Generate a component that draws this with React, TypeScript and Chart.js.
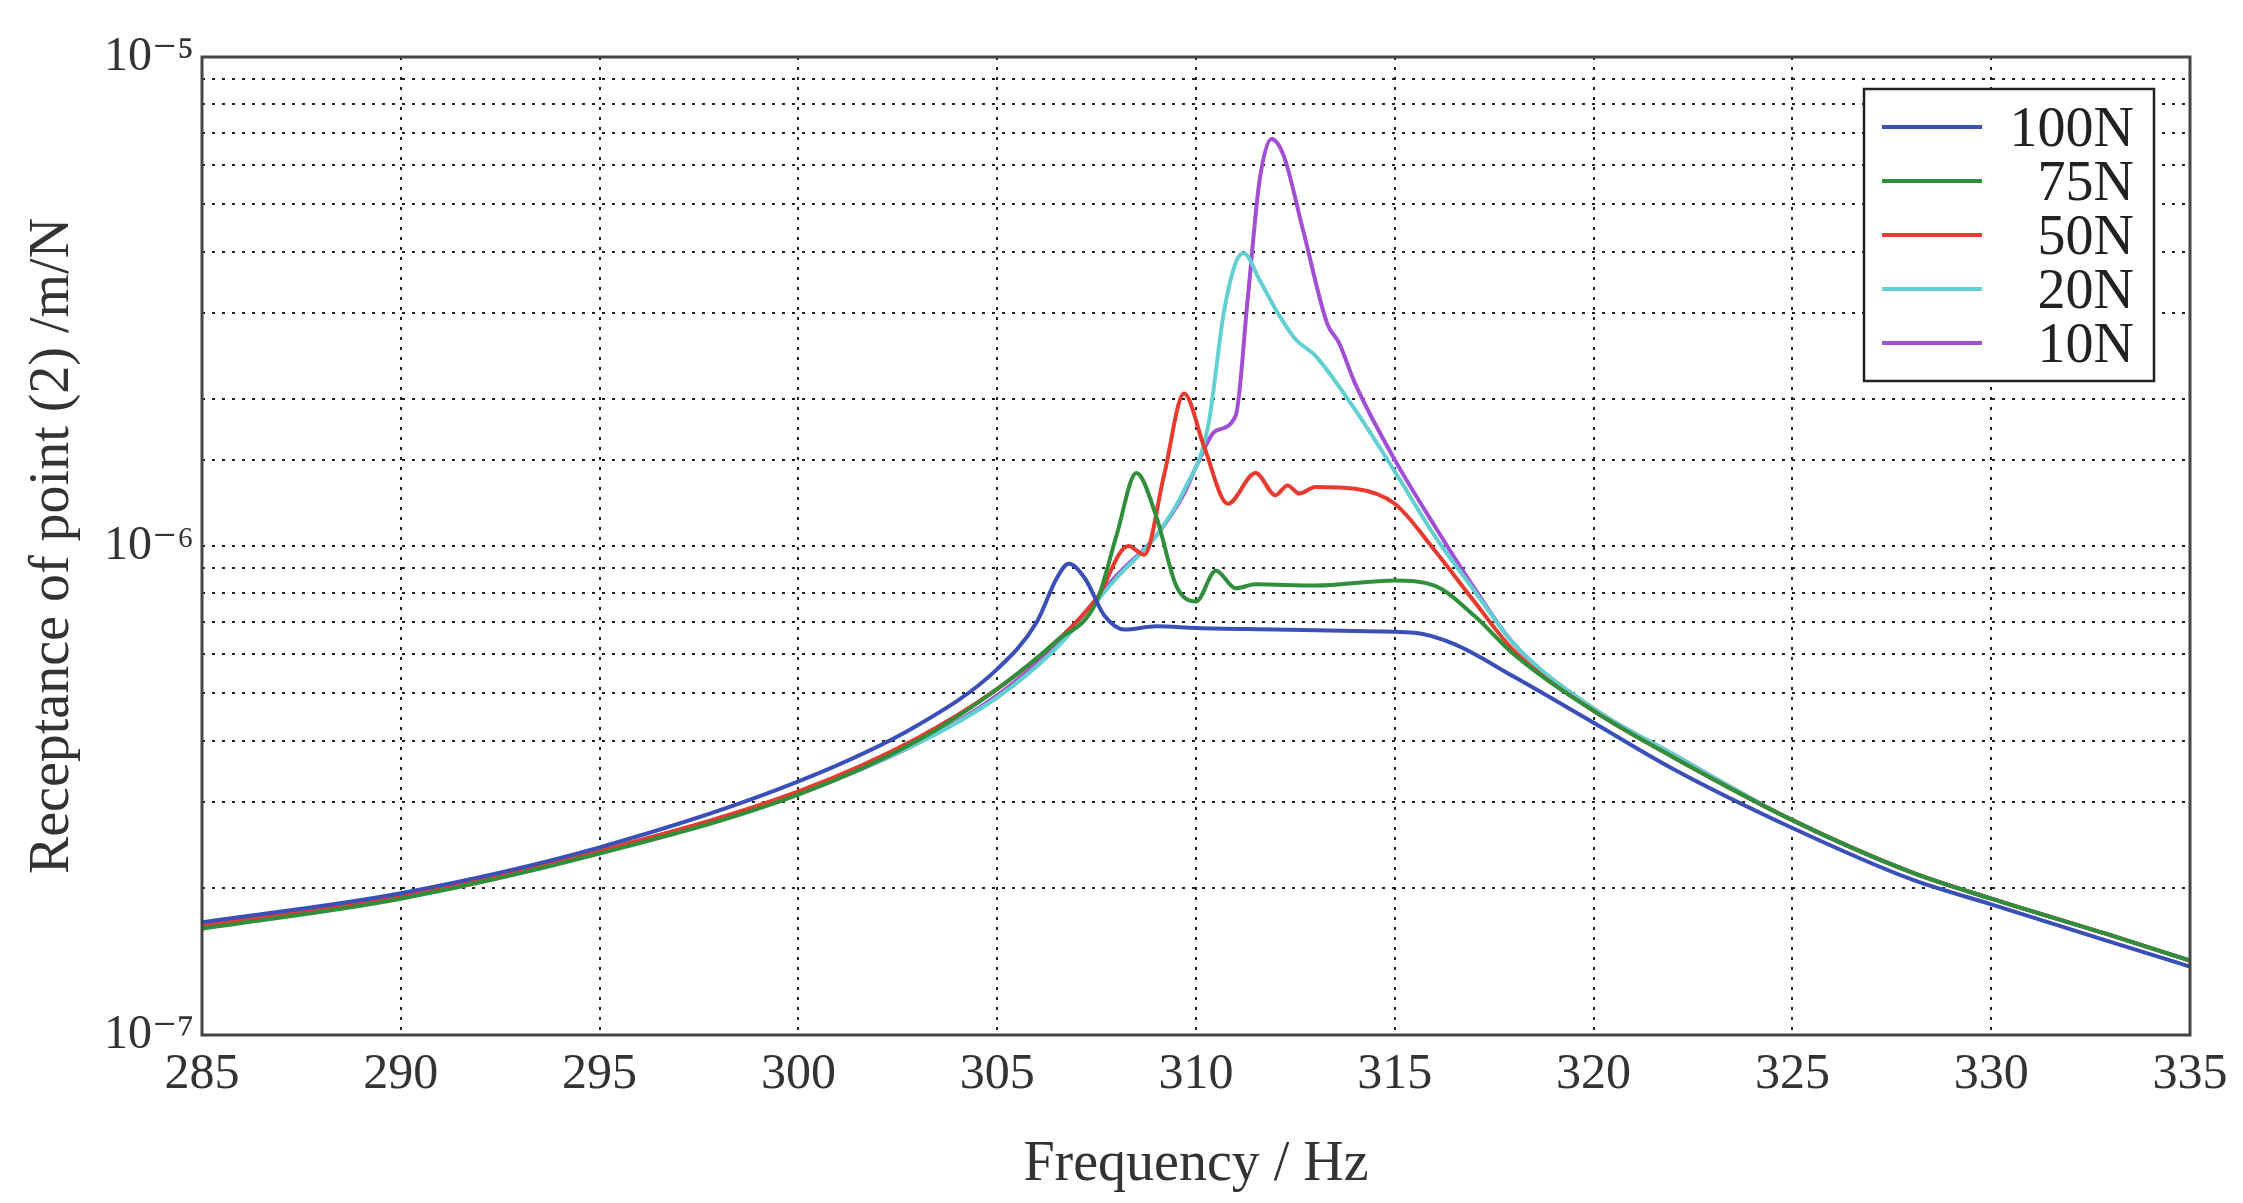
import React, { useEffect, useRef } from "react";
import { Chart, registerables } from "chart.js";
Chart.register(...registerables);

const seriesLabels = ["100N", "75N", "50N", "20N", "10N"];
const seriesColors = ["#3b4fb8", "#2f8f3a", "#e83a2e", "#62d0d0", "#a24fd6"];

const freq100 = [285, 290, 295, 300, 303, 305, 306, 306.5, 306.8, 307.2, 307.7, 308.2, 309, 310, 312, 314, 315.5, 316.5, 318, 320, 322, 325, 328, 330, 333, 335];
const val100 = [1.70e-7, 1.95e-7, 2.42e-7, 3.3e-7, 4.3e-7, 5.6e-7, 7.0e-7, 8.6e-7, 9.2e-7, 8.6e-7, 7.2e-7, 6.75e-7, 6.85e-7, 6.8e-7, 6.75e-7, 6.7e-7, 6.65e-7, 6.3e-7, 5.4e-7, 4.35e-7, 3.5e-7, 2.65e-7, 2.08e-7, 1.85e-7, 1.55e-7, 1.38e-7];

const freq75 = [285, 290, 295, 300, 303, 305, 306.5, 307.5, 308, 308.5, 309, 309.5, 310, 310.5, 311, 311.5, 313, 315, 316, 317, 318, 320, 322, 325, 328, 330, 333, 335];
const val75 = [1.65e-7, 1.9e-7, 2.35e-7, 3.1e-7, 4.0e-7, 5.1e-7, 6.4e-7, 7.7e-7, 1.05e-6, 1.41e-6, 1.15e-6, 8.3e-7, 7.7e-7, 8.9e-7, 8.2e-7, 8.35e-7, 8.3e-7, 8.5e-7, 8.3e-7, 7.2e-7, 6.0e-7, 4.6e-7, 3.7e-7, 2.75e-7, 2.15e-7, 1.9e-7, 1.6e-7, 1.42e-7];

const freq50 = [285, 290, 295, 300, 303, 305, 306.5, 307.5, 308.3, 308.7, 309.2, 309.7, 310.2, 310.8, 311.5, 312, 312.3, 312.6, 313, 314, 315, 316, 317, 318, 320, 322, 325, 328, 330, 333, 335];
const val50 = [1.67e-7, 1.92e-7, 2.38e-7, 3.15e-7, 4.05e-7, 5.1e-7, 6.4e-7, 7.8e-7, 1.0e-6, 9.6e-7, 1.4e-6, 2.05e-6, 1.6e-6, 1.22e-6, 1.41e-6, 1.27e-6, 1.33e-6, 1.28e-6, 1.32e-6, 1.31e-6, 1.22e-6, 9.8e-7, 7.7e-7, 6.1e-7, 4.6e-7, 3.7e-7, 2.75e-7, 2.15e-7, 1.9e-7, 1.6e-7, 1.42e-7];

const freq20 = [285, 290, 295, 300, 303, 305, 306.5, 308, 309, 309.7, 310.3, 310.7, 311, 311.2, 311.6, 312, 312.5, 313, 314, 315, 316, 317, 318, 320, 322, 325, 328, 330, 333, 335];
const val20 = [1.67e-7, 1.92e-7, 2.38e-7, 3.12e-7, 3.95e-7, 4.9e-7, 6.2e-7, 8.6e-7, 1.05e-6, 1.3e-6, 1.75e-6, 3.0e-6, 3.8e-6, 3.97e-6, 3.5e-6, 3.05e-6, 2.65e-6, 2.45e-6, 1.9e-6, 1.42e-6, 1.05e-6, 8.1e-7, 6.3e-7, 4.65e-7, 3.75e-7, 2.75e-7, 2.15e-7, 1.9e-7, 1.6e-7, 1.42e-7];

const freq10 = [285, 290, 295, 300, 303, 305, 306.5, 308, 309, 309.7, 310, 310.5, 311, 311.3, 311.6, 311.9, 312.2, 312.7, 313.3, 313.6, 314, 315, 316, 317, 318, 320, 322, 325, 328, 330, 333, 335];
const val10 = [1.67e-7, 1.92e-7, 2.38e-7, 3.12e-7, 3.95e-7, 4.95e-7, 6.3e-7, 8.7e-7, 1.05e-6, 1.28e-6, 1.45e-6, 1.72e-6, 1.85e-6, 3.2e-6, 5.6e-6, 6.8e-6, 6.3e-6, 4.4e-6, 2.85e-6, 2.6e-6, 2.15e-6, 1.5e-6, 1.1e-6, 8.2e-7, 6.3e-7, 4.65e-7, 3.75e-7, 2.75e-7, 2.15e-7, 1.9e-7, 1.6e-7, 1.42e-7];

const freqs = [freq100, freq75, freq50, freq20, freq10];
const vals = [val100, val75, val50, val20, val10];
const xTickStep = 5;

const FONT = "'Liberation Serif', 'DejaVu Serif', serif";
const sup = (n: number) => String(n).split("").map(c => ({ "-": "⁻", "0": "⁰", "1": "¹", "2": "²", "3": "³", "4": "⁴", "5": "⁵", "6": "⁶", "7": "⁷", "8": "⁸", "9": "⁹" } as any)[c]).join("");

const frameLegend = {
  id: "frameLegend",
  afterDraw(chart: any) {
    const { ctx, chartArea: a } = chart;
    ctx.save();
    ctx.strokeStyle = "#444";
    ctx.lineWidth = 3;
    ctx.strokeRect(a.left, a.top, a.right - a.left, a.bottom - a.top);
    const w = 290, h = 292;
    const x0 = a.right - 36 - w, y0 = a.top + 32;
    ctx.fillStyle = "#fff";
    ctx.fillRect(x0, y0, w, h);
    ctx.strokeStyle = "#222";
    ctx.lineWidth = 2.5;
    ctx.strokeRect(x0, y0, w, h);
    ctx.font = `56px ${FONT}`;
    ctx.textAlign = "right";
    ctx.textBaseline = "middle";
    chart.data.datasets.forEach((d: any, i: number) => {
      const y = y0 + 38 + i * 54;
      ctx.strokeStyle = d.borderColor;
      ctx.lineWidth = 4;
      ctx.beginPath();
      ctx.moveTo(x0 + 18, y);
      ctx.lineTo(x0 + 118, y);
      ctx.stroke();
      ctx.fillStyle = "#222";
      ctx.fillText(d.label, x0 + w - 20, y + 4);
    });
    ctx.restore();
  },
};

export default function App() {
  const ref = useRef<HTMLCanvasElement>(null);
  useEffect(() => {
    document.body.style.margin = "0";
    const chart = new Chart(ref.current!, {
      type: "line",
      data: {
        datasets: seriesLabels.map((label, i) => ({
          label,
          data: freqs[i].map((x, j) => ({ x, y: vals[i][j] })),
          borderColor: seriesColors[i],
          backgroundColor: seriesColors[i],
          borderWidth: 4,
          pointRadius: 0,
          cubicInterpolationMode: "monotone" as const,
        })),
      },
      options: {
        animation: false,
        responsive: false,
        maintainAspectRatio: false,
        layout: { padding: { top: 57, right: 53, left: 0, bottom: 0 } },
        plugins: { legend: { display: false }, tooltip: { enabled: false } },
        scales: {
          x: {
            type: "linear",
            min: 285,
            max: 335,
            ticks: { stepSize: xTickStep, color: "#333", font: { family: FONT, size: 50 }, padding: 10, maxRotation: 0 },
            grid: { color: "#222", lineWidth: 2, tickLength: 0 },
            border: { display: false, dash: [3, 7] },
            title: { display: true, text: "Frequency / Hz", color: "#333", font: { family: FONT, size: 56 }, padding: { top: 2 } },
            afterFit: (s: any) => { s.height = 168; },
          },
          y: {
            type: "logarithmic",
            min: 1e-7,
            max: 1e-5,
            ticks: {
              color: "#333",
              font: { family: FONT, size: 48 },
              autoSkip: false,
              padding: 8,
              callback: (v: any) => {
                const l = Math.log10(Number(v));
                return Math.abs(l - Math.round(l)) < 1e-6 ? "10" + sup(Math.round(l)) : "";
              },
            },
            grid: { color: "#222", lineWidth: 2, tickLength: 0 },
            border: { display: false, dash: [3, 7] },
            title: { display: true, text: "Receptance of point (2) /m/N", color: "#333", font: { family: FONT, size: 56 }, padding: { top: 20, bottom: 6 } },
            afterFit: (s: any) => { s.width = 202; },
          },
        },
      },
      plugins: [frameLegend],
    } as any);
    return () => chart.destroy();
  }, []);
  return (
    <div style={{ width: 2243, height: 1203, background: "#fff" }}>
      <canvas ref={ref} width={2243} height={1203} />
    </div>
  );
}
